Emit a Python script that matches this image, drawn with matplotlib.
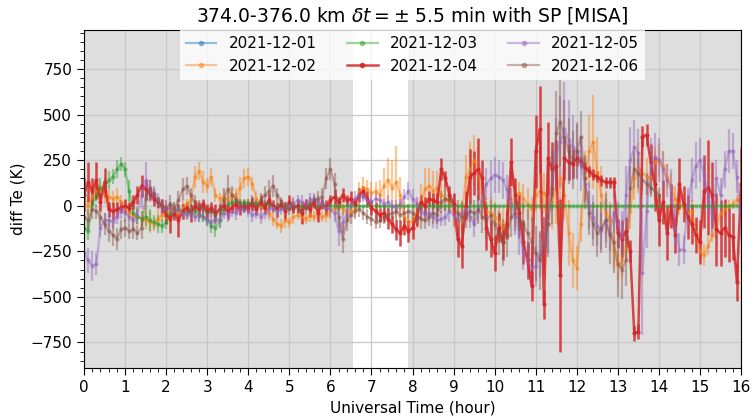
import numpy as np
import matplotlib
matplotlib.use("Agg")
import matplotlib.pyplot as plt
from matplotlib.lines import Line2D
from matplotlib.ticker import MultipleLocator

# hourly grid, one sample every 0.1 h (0.0 .. 16.0)
hours = np.round(np.arange(0, 161) * 0.1, 1)

labels = ["2021-12-01", "2021-12-02", "2021-12-03",
          "2021-12-04", "2021-12-05", "2021-12-06"]
colors = ["tab:blue", "tab:orange", "tab:green", "tab:red", "tab:purple", "tab:brown"]

# 2021-12-01: no usable samples at this altitude
d01_hours = [0.0, 16.0]
d01 = [np.nan, np.nan]
d01_err = [0, 0]

d02 = [20, 0, 50, 80, 90, 60, 50, 40, 50, 20,
       -10, -40, -50, -60, -70, -80, -90, -100, -70, -50,
       -60, -30, -20, -40, -10, 10, 30, 160, 190, 130,
       110, 160, 60, 40, 50, 30, 60, 50, 100, 150,
       160, 120, 40, 0, -20, -40, -70, -100, -110, -80,
       -90, -60, -50, -60, -70, -50, -60, -40, -60, -50,
       -30, -10, 10, -20, -40, -30, -20, 80, 100, 90,
       70, 80, 60, 110, 140, 100, 130, 60, -60, -100,
       -80, -40, 20, 90, 110, 80, 100, 60, 40, 20,
       -40, -100, -60, 160, 200, 250, 200, 20, -30, -40,
       -60, -90, -120, -80, 20, 50, 70, 40, 10, -20,
       60, 80, 70, 40, 20, 100, 150, 60, -150, -300,
       -340, -100, 150, 300, 350, 180, 60, -40, -80, -250,
       -330, -300, -220, -30, 150, 210, 180, 160, 150, 240,
       250, 220, 160, 100, 40, 10, -20, -40, -30, -150,
       -250, -270, -220, -160, -130, -40, -20, 0, 10, 30,
       40]
d02_err = [60, 50, 60, 50, 40, 50, 40, 40, 50, 40,
           40, 50, 40, 50, 40, 50, 60, 40, 50, 40,
           40, 50, 40, 30, 40, 30, 40, 60, 50, 60,
           40, 50, 40, 30, 40, 50, 40, 50, 60, 50,
           50, 40, 40, 50, 30, 40, 40, 30, 40, 40,
           30, 40, 30, 40, 30, 40, 30, 40, 30, 40,
           40, 30, 40, 30, 40, 30, 40, 50, 60, 50,
           60, 50, 80, 100, 120, 150, 200, 100, 80, 60,
           60, 80, 100, 120, 100, 110, 90, 80, 70, 60,
           80, 100, 90, 120, 150, 140, 120, 100, 80, 70,
           80, 90, 100, 90, 80, 70, 60, 80, 90, 70,
           90, 100, 110, 120, 150, 200, 260, 140, 180, 150,
           120, 100, 150, 200, 260, 200, 160, 120, 100, 90,
           80, 90, 80, 100, 120, 140, 120, 100, 90, 80,
           90, 80, 70, 80, 70, 60, 60, 50, 60, 50,
           50, 60, 50, 40, 50, 40, 40, 30, 30, 30,
           30]

d03 = [-120, -140, 10, 60, 100, 110, 140, 160, 200, 230,
       200, 80, -40, -60, -70, -60, -80, -90, -100, -110,
       -90, -40, -30, -20, -30, -40, -20, -30, -50, -60,
       -80, -110, -120, -80, -20, 10, 20, 20, 20, 15,
       15, 15, 15, 10, 10, 10, 0, 0, 0, 0,
       0, 0, 0, 0, 0, 0, 0, 0, 0, 0,
       0, 0, 0, 0, 0, 0, 0, 0, 0, 0,
       0, 0, 0, 0, 0, 0, 0, 0, 0, 0,
       0, 0, 0, 0, 0, 0, 0, 0, 0, 0,
       0, 0, 0, 0, 0, 0, 0, 0, 0, 0,
       0, 0, 0, 0, 0, 0, 0, 0, 0, 0,
       0, 0, 0, 0, 0, 0, 0, 0, 0, 0,
       0, 0, 0, 0, 0, 0, 0, 0, 0, 0,
       0, 0, 0, 0, 0, 0, 0, 0, 0, 0,
       0, 0, 0, 0, 0, 0, 0, 0, 0, 0,
       0, 0, 0, 0, 0, 0, 0, 0, 0, 0,
       0]
d03_err = [60, 50, 40, 40, 50, 40, 50, 40, 50, 40,
           40, 60, 50, 40, 40, 50, 60, 40, 50, 40,
           40, 30, 40, 30, 40, 30, 40, 30, 40, 30,
           30, 40, 50, 40, 30, 20, 20, 20, 20, 20,
           20, 20, 20, 20, 20, 20, 0, 0, 0, 0,
           0, 0, 0, 0, 0, 0, 0, 0, 0, 0,
           0, 0, 0, 0, 0, 0, 0, 0, 0, 0,
           0, 0, 0, 0, 0, 0, 0, 0, 0, 0,
           0, 0, 0, 0, 0, 0, 0, 0, 0, 0,
           0, 0, 0, 0, 0, 0, 0, 0, 0, 0,
           0, 0, 0, 0, 0, 0, 0, 0, 0, 0,
           0, 0, 0, 0, 0, 0, 0, 0, 0, 0,
           0, 0, 0, 0, 0, 0, 0, 0, 0, 0,
           0, 0, 0, 0, 0, 0, 0, 0, 0, 0,
           0, 0, 0, 0, 0, 0, 0, 0, 0, 0,
           0, 0, 0, 0, 0, 0, 0, 0, 0, 0,
           0]

d04 = [60, 130, 80, 140, 20, 130, -20, -30, -20, -10,
       0, -10, 20, 60, 110, 90, 70, 40, 20, 0,
       -50, -70, -40, -80, -30, -10, -40, 0, -20, 10,
       -30, -10, -40, -20, 0, -30, -10, 10, -20, 0,
       -10, 10, -20, 20, -10, 30, 0, -20, 10, -30,
       20, -10, 0, -40, 10, -20, 20, -40, 10, -10,
       30, 50, 20, 60, 30, 40, 10, 60, 80, 40,
       -10, -30, -50, -40, -70, -100, -130, -150, -110, -140,
       -120, -60, 20, 0, 40, 30, 20, 200, 150, 60,
       10, -180, -220, 0, 160, 180, 200, 150, -120, -180,
       -260, -120, -200, -100, 240, 60, -40, -200, -300, -440,
       300, 420, -540, 260, 200, 220, -380, 260, 240, 230,
       260, 240, 210, 190, 170, 160, 140, 130, 130, 130,
       -150, -180, -140, -250, -700, -690, 380, 390, 240, 120,
       -80, 20, -150, 0, -160, 120, 10, -60, -100, -160,
       -200, 80, 100, 60, -130, -150, -120, -160, -170, -420,
       120]
d04_err = [90, 110, 70, 100, 50, 80, 40, 50, 40, 30,
           40, 30, 40, 50, 60, 50, 40, 40, 30, 40,
           50, 80, 40, 90, 40, 30, 50, 30, 40, 30,
           40, 30, 50, 30, 30, 40, 30, 40, 30, 30,
           30, 40, 30, 40, 30, 40, 30, 40, 30, 50,
           40, 30, 40, 60, 30, 40, 30, 50, 30, 40,
           30, 40, 30, 40, 30, 40, 30, 40, 30, 40,
           40, 50, 40, 50, 60, 50, 60, 70, 50, 60,
           60, 50, 40, 50, 40, 40, 50, 60, 40, 50,
           60, 100, 120, 80, 150, 120, 170, 100, 120, 100,
           100, 80, 100, 80, 130, 90, 100, 120, 100, 80,
           200, 240, 80, 200, 150, 140, 420, 120, 100, 80,
           40, 30, 30, 30, 30, 30, 30, 30, 30, 30,
           80, 100, 80, 60, 40, 40, 60, 60, 100, 150,
           140, 120, 150, 120, 100, 140, 100, 120, 110, 100,
           120, 200, 260, 180, 200, 180, 160, 150, 130, 100,
           200]

d05 = [-260, -300, -330, -320, -120, -80, -80, -90, -60, -20,
       -40, -60, -80, -50, 60, 140, 80, 60, 30, -10,
       -20, -10, -30, -20, -40, -50, -40, -60, -50, -60,
       -80, -90, -70, -80, -40, -50, -30, -40, -20, -10,
       -30, -50, -40, -60, -40, -20, -10, -30, -20, -10,
       0, 10, 30, 20, 10, 30, 40, 20, 10, -10,
       -20, -40, -140, -90, -50, 10, 40, 60, 50, 30,
       20, 40, 30, 10, 20, 0, -10, 10, 50, 80,
       40, 10, -30, -50, -40, -60, -80, -70, -60, -30,
       -50, -80, -40, -20, -60, -100, -30, 40, 120, 150,
       170, 160, 140, 90, 10, -60, -150, -250, -300, -340,
       -330, -270, -200, -100, 150, 280, 350, 420, 360, 320,
       300, 230, 120, 0, -60, -110, -140, -80, -150, -40,
       -100, -170, 60, 250, 320, 290, -370, -30, 220, 270,
       250, 200, 140, 100, -120, -240, -240, 0, 140, 220,
       250, 170, 50, -70, 150, 60, 200, 300, 300, 160,
       -100]
d05_err = [60, 70, 80, 60, 50, 40, 40, 40, 40, 50,
           50, 40, 60, 50, 80, 100, 60, 50, 40, 40,
           40, 30, 40, 30, 40, 30, 40, 30, 40, 30,
           30, 40, 30, 40, 30, 40, 30, 40, 30, 30,
           30, 40, 30, 40, 30, 40, 30, 40, 30, 30,
           30, 40, 30, 40, 30, 40, 30, 40, 30, 30,
           40, 50, 80, 60, 40, 30, 40, 40, 30, 40,
           40, 30, 40, 30, 40, 30, 40, 30, 40, 50,
           50, 40, 50, 40, 50, 60, 50, 40, 50, 60,
           60, 50, 60, 50, 60, 70, 60, 80, 90, 100,
           100, 90, 100, 80, 90, 100, 120, 100, 100, 120,
           110, 120, 140, 160, 180, 200, 250, 260, 220, 180,
           160, 150, 140, 130, 120, 110, 100, 120, 100, 110,
           120, 140, 160, 180, 150, 130, 340, 200, 150, 130,
           120, 100, 90, 100, 100, 90, 80, 100, 120, 130,
           120, 100, 90, 100, 100, 90, 100, 120, 100, 90,
           80]

# 2021-12-06 stops at 14 h
d06_hours = hours[:141]
d06 = [-60, -80, -20, -30, -60, -100, -140, -160, -180, -130,
       -120, -140, -130, -150, -120, 40, 90, 60, 20, 0,
       -10, 10, -20, 30, 90, 110, 60, 20, 0, -20,
       -40, -30, -50, -20, 40, 90, 60, 30, 10, -10,
       10, 20, 0, 30, 60, 80, 110, 60, 20, -10,
       -20, 0, -10, -30, -10, 10, 30, 40, 50, 150,
       200, 120, -60, -180, -80, -50, -30, -20, -40, -60,
       -70, -90, -80, -60, -50, -40, -30, -50, -40, -30,
       -40, -60, -70, -80, -60, -40, -50, 20, 40, 30,
       0, -40, -60, -50, -30, -40, -20, -60, -80, -50,
       -100, -150, -200, -160, -60, -40, -80, -100, -150, -200,
       -260, -300, -220, -100, 100, 400, 460, 380, 300, 250,
       300, 380, 150, -40, -100, -150, -120, -80, -160, -200,
       -320, -350, -300, 100, 200, 180, 140, 120, 100, 80,
       60]
d06_err = [80, 60, 50, 40, 50, 60, 60, 60, 60, 50,
           50, 40, 50, 40, 60, 60, 50, 40, 30, 40,
           40, 50, 40, 50, 60, 50, 40, 40, 30, 40,
           40, 30, 40, 30, 60, 80, 50, 40, 30, 30,
           30, 40, 30, 40, 50, 60, 60, 40, 30, 30,
           30, 40, 30, 40, 30, 40, 30, 40, 50, 60,
           60, 60, 60, 80, 60, 50, 40, 40, 40, 40,
           40, 40, 40, 40, 40, 40, 40, 40, 40, 40,
           50, 50, 60, 50, 50, 60, 50, 60, 70, 60,
           60, 70, 80, 70, 60, 70, 80, 90, 100, 100,
           110, 120, 130, 120, 110, 100, 100, 120, 130, 140,
           150, 160, 160, 180, 200, 230, 240, 200, 180, 160,
           150, 140, 130, 120, 120, 130, 140, 150, 160, 170,
           180, 160, 140, 120, 100, 80, 60, 60, 50, 50,
           40]

series = [
    (d01_hours, d01, d01_err),
    (hours, d02, d02_err),
    (hours, d03, d03_err),
    (hours, d04, d04_err),
    (hours, d05, d05_err),
    (d06_hours, d06, d06_err),
]

fig = plt.figure(figsize=(7.55, 4.16), dpi=100)
ax = fig.add_axes([0.1113, 0.1154, 0.8702, 0.8126])

# shaded intervals
ax.axvspan(0, 6.55, color="gray", alpha=0.26, lw=0, zorder=0)
ax.axvspan(7.88, 16, color="gray", alpha=0.26, lw=0, zorder=0)

handles = []
for (t, v, e), lab, c in zip(series, labels, colors):
    if lab == "2021-12-04":
        a, lw = 0.85, 1.8
    else:
        a, lw = 0.45, 1.6
    ax.errorbar(t, v, yerr=e, fmt=".-", color=c, alpha=a, lw=lw,
                elinewidth=lw, ms=4)
    handles.append(Line2D([], [], color=c, alpha=a, lw=lw, marker=".", ms=6, label=lab))

ax.set_xlim(0, 16)
ax.set_ylim(-890, 965)
ax.xaxis.set_major_locator(MultipleLocator(1))
ax.xaxis.set_minor_locator(MultipleLocator(0.2))
ax.yaxis.set_major_locator(MultipleLocator(250))
ax.yaxis.set_minor_locator(MultipleLocator(50))
ax.tick_params(axis="both", which="major", labelsize=11, length=5)
ax.tick_params(axis="both", which="minor", length=3)
ax.grid(True, which="major", color="#c8c8c8", lw=0.9, zorder=1)

ax.set_xlabel("Universal Time (hour)", fontsize=11)
ax.set_ylabel("diff Te (K)", fontsize=11)
ax.set_title(r"374.0-376.0 km $\delta t = \pm$ 5.5 min with SP [MISA]", fontsize=13.5)

leg = ax.legend(handles=handles, loc="upper center", ncol=3, fontsize=11,
                bbox_to_anchor=(0.5, 1.0), borderaxespad=0, framealpha=0.8,
                fancybox=False)
leg.get_frame().set_edgecolor("none")

fig.savefig("out.png", dpi=100)
